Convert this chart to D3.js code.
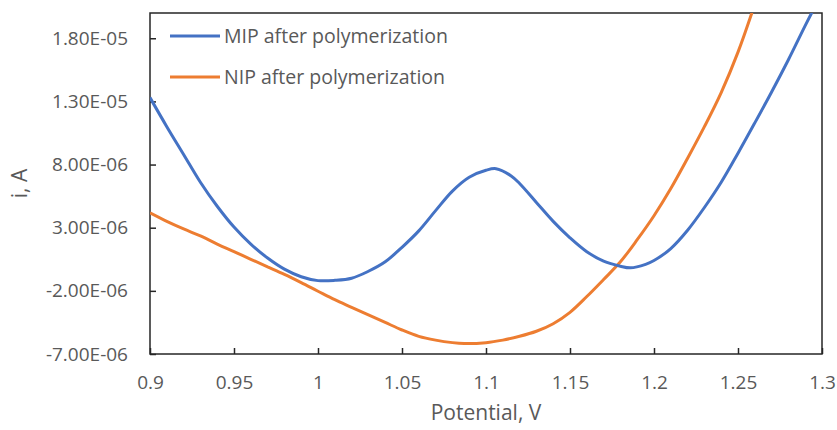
<!DOCTYPE html>
<html>
<head>
<meta charset="utf-8">
<script src="https://cdn.jsdelivr.net/npm/d3@7"></script>
<style>
    body { margin: 0; background: #fff; }
    text { font-family: "Open Sans", sans-serif; fill: #595959; }
</style>
</head>
<body>
<svg id="chart"></svg>
<script>
// values (potential in V, current in uA)
var mipPotential = [0.900, 0.910, 0.920, 0.930, 0.940, 0.950, 0.960, 0.970, 0.980, 0.990,
    1.000, 1.010, 1.020, 1.030, 1.040, 1.050, 1.060, 1.070, 1.080, 1.090,
    1.100, 1.106, 1.115, 1.120, 1.130, 1.140, 1.150, 1.160, 1.170, 1.180,
    1.186, 1.195, 1.200, 1.210, 1.220, 1.230, 1.240, 1.250, 1.260, 1.270,
    1.280, 1.290, 1.295];
var mipCurrent = [13.3, 11.0, 8.8, 6.6, 4.7, 3.05, 1.7, 0.6, -0.28, -0.88,
    -1.19, -1.17, -1.0, -0.45, 0.3, 1.45, 2.75, 4.35, 5.9, 7.0,
    7.55, 7.67, 7.1, 6.5, 5.0, 3.5, 2.2, 1.1, 0.35, -0.05,
    -0.18, 0.1, 0.4, 1.35, 2.8, 4.6, 6.6, 8.9, 11.3, 13.75,
    16.3, 19.0, 20.3];

var nipPotential = [0.900, 0.910, 0.920, 0.930, 0.940, 0.950, 0.960, 0.970, 0.980, 0.990,
    1.000, 1.010, 1.020, 1.030, 1.040, 1.050, 1.060, 1.070, 1.080, 1.087,
    1.100, 1.110, 1.120, 1.130, 1.140, 1.150, 1.160, 1.170, 1.180, 1.190,
    1.200, 1.210, 1.220, 1.230, 1.240, 1.250, 1.260];
var nipCurrent = [4.17, 3.5, 2.9, 2.35, 1.7, 1.1, 0.5, -0.1, -0.7, -1.35,
    -2.03, -2.7, -3.3, -3.9, -4.5, -5.1, -5.6, -5.9, -6.1, -6.17,
    -6.1, -5.9, -5.6, -5.2, -4.6, -3.7, -2.45, -1.1, 0.3, 2.05,
    3.95, 6.1, 8.5, 11.0, 13.7, 16.9, 20.7];

var seriesNames = ["MIP after polymerization", "NIP after polymerization"];
var seriesColors = ["#4472C4", "#ED7D31"];

var xTicks = [0.9, 0.95, 1.0, 1.05, 1.1, 1.15, 1.2, 1.25, 1.3];
var yTicks = [-7e-6, -2e-6, 3e-6, 8e-6, 1.3e-5, 1.8e-5];

var width = 837,
    height = 430;
var margin = {left: 150, right: 15, top: 13, bottom: 76};

var svg = d3.select("#chart")
    .attr("width", width)
    .attr("height", height);

var x = d3.scaleLinear().domain([0.9, 1.3]).range([margin.left, width - margin.right]);
var y = d3.scaleLinear().domain([-7e-6, 2e-5]).range([height - margin.bottom, margin.top]);

function sciFormat(v) {
    // Excel style 1.80E-05
    var s = v.toExponential(2).toUpperCase();
    var parts = s.split("E");
    var exp = parseInt(parts[1]);
    var sign = exp < 0 ? "-" : "+";
    var digits = String(Math.abs(exp)).padStart(2, "0");
    return parts[0] + "E" + sign + digits;
}

// clip so the rising ends stop at the frame
svg.append("clipPath").attr("id", "plotclip")
    .append("rect")
    .attr("x", margin.left)
    .attr("y", margin.top)
    .attr("width", width - margin.right - margin.left)
    .attr("height", height - margin.bottom - margin.top);

// axes, ticks pointing inward
var xAxis = d3.axisBottom(x).tickValues(xTicks).tickSizeInner(-6).tickSizeOuter(0)
    .tickPadding(22)
    .tickFormat(function(d) { return String(+d.toFixed(2)); });
var yAxis = d3.axisLeft(y).tickValues(yTicks).tickSizeInner(-6).tickSizeOuter(0)
    .tickPadding(22)
    .tickFormat(sciFormat);

var gx = svg.append("g")
    .attr("transform", "translate(0," + y.range()[0] + ")")
    .call(xAxis);
var gy = svg.append("g")
    .attr("transform", "translate(" + margin.left + ",0)")
    .call(yAxis);

[gx, gy].forEach(function(g) {
    g.select(".domain").remove();
    g.selectAll(".tick line").attr("stroke", "#262626").attr("stroke-width", 1.5);
    g.selectAll(".tick text")
        .style("font-family", "'Open Sans', sans-serif")
        .style("font-size", "19px")
        .attr("fill", "#595959");
});
gy.selectAll(".tick line").attr("x1", 0).attr("x2", 6);

// frame around the plot area
svg.append("rect")
    .attr("x", margin.left)
    .attr("y", margin.top)
    .attr("width", width - margin.right - margin.left)
    .attr("height", height - margin.bottom - margin.top)
    .attr("fill", "none")
    .attr("stroke", "#262626")
    .attr("stroke-width", 1.5);

var line = d3.line()
    .x(function(d) { return x(d[0]); })
    .y(function(d) { return y(d[1] * 1e-6); })
    .curve(d3.curveCatmullRom.alpha(0.5));

var seriesData = [
    d3.zip(mipPotential, mipCurrent),
    d3.zip(nipPotential, nipCurrent)
];

// draw MIP on top like the original
[1, 0].forEach(function(i) {
    svg.append("path")
        .attr("clip-path", "url(#plotclip)")
        .attr("d", line(seriesData[i]))
        .attr("fill", "none")
        .attr("stroke", seriesColors[i])
        .attr("stroke-width", 3)
        .attr("stroke-linejoin", "round");
});

// legend in the top left corner
var legendY = [36, 77];
seriesNames.forEach(function(name, i) {
    svg.append("line")
        .attr("x1", 170).attr("x2", 220)
        .attr("y1", legendY[i]).attr("y2", legendY[i])
        .attr("stroke", seriesColors[i])
        .attr("stroke-width", 3);
    svg.append("text")
        .attr("x", 224)
        .attr("y", legendY[i])
        .attr("dy", "0.35em")
        .style("font-size", "19.5px")
        .text(name);
});

// axis titles
svg.append("text")
    .attr("x", (x.range()[0] + x.range()[1]) / 2)
    .attr("y", 420)
    .attr("text-anchor", "middle")
    .style("font-size", "21px")
    .text("Potential, V");

svg.append("text")
    .attr("transform", "translate(27," + ((y.range()[0] + y.range()[1]) / 2) + ") rotate(-90)")
    .attr("text-anchor", "middle")
    .style("font-size", "21px")
    .text("i, A");
</script>
</body>
</html>
